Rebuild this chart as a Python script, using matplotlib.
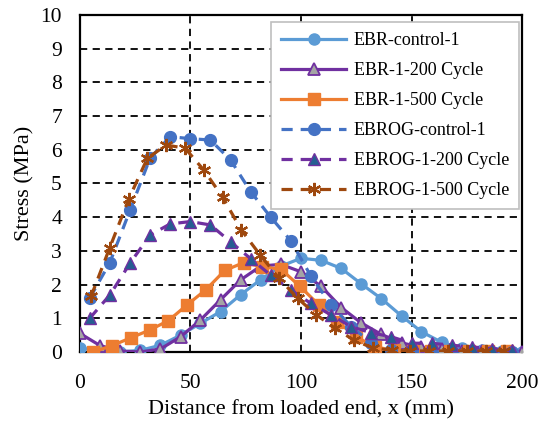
import numpy as np
import matplotlib
matplotlib.use("Agg")
import matplotlib.pyplot as plt

plt.rcParams['font.family'] = ['Liberation Serif', 'DejaVu Serif']

# distances (mm) and stresses (MPa)
x_ebr = [0, 9.1, 18.2, 27.3, 36.4, 45.5, 54.5, 63.6, 72.7, 81.8, 90.9, 100,
         109.1, 118.2, 127.3, 136.4, 145.5, 154.5, 163.6, 172.7, 181.8, 190.9, 200]
ebr_control = [0.12, 0.03, 0.0, 0.05, 0.2, 0.5, 0.85, 1.2, 1.7, 2.15, 2.55, 2.78,
               2.72, 2.48, 2.02, 1.58, 1.07, 0.6, 0.29, 0.11, 0.05, 0.02, 0.0]
ebr_200 = [0.55, 0.19, 0.03, 0.0, 0.09, 0.45, 0.95, 1.55, 2.14, 2.55, 2.6, 2.38,
           1.95, 1.32, 0.86, 0.52, 0.27, 0.14, 0.08, 0.04, 0.02, 0.01, 0.0]

x_ebr500 = [6, 14.5, 23, 31.5, 40, 48.5, 57, 65.5, 74, 82.5, 91, 99.5,
            108, 116.5, 125, 133.5, 142, 150.5, 159, 167.5, 176, 184.5, 193]
ebr_500 = [0.0, 0.19, 0.42, 0.65, 0.93, 1.4, 1.85, 2.42, 2.65, 2.53, 2.45, 1.95,
           1.4, 0.9, 0.45, 0.15, 0.05, 0.02, 0.02, 0.02, 0.02, 0.02, 0.02]

x_ebrog = [4.4, 13.5, 22.6, 31.7, 40.8, 49.9, 59, 68.1, 77.2, 86.3, 95.4, 104.5,
           113.6, 122.7, 131.8, 140.9, 150, 159.1, 168.2, 177.3, 186.4, 195.5]
ebrog_control = [1.6, 2.65, 4.2, 5.75, 6.39, 6.33, 6.29, 5.7, 4.76, 4.0, 3.3, 2.25,
                 1.4, 0.75, 0.28, 0.05, 0.02, 0.0, 0.0, 0.0, 0.0, 0.0]
ebrog_200 = [1.0, 1.69, 2.63, 3.47, 3.8, 3.87, 3.77, 3.27, 2.77, 2.28, 1.84, 1.44,
             1.1, 0.75, 0.57, 0.45, 0.26, 0.26, 0.2, 0.15, 0.1, 0.05]

x_ebrog500 = [5, 13.5, 22, 30.5, 39, 47.5, 56, 64.5, 73, 81.5, 90, 98.5,
              107, 115.5, 124, 132.5, 141, 149.5, 158, 166.5, 175, 183.5, 192]
ebrog_500 = [1.65, 3.1, 4.53, 5.75, 6.14, 6.05, 5.4, 4.6, 3.62, 2.88, 2.19, 1.59,
             1.1, 0.7, 0.35, 0.12, 0.05, 0.03, 0.03, 0.03, 0.03, 0.03, 0.03]

fig, ax = plt.subplots(figsize=(5.39, 4.21), dpi=100)
fig.subplots_adjust(left=0.1484, right=0.9685, top=0.9644, bottom=0.1639)

dash = (3.5, 2.5)
ax.plot(x_ebr, ebr_control, '-', color='#5B9BD5', lw=2.3, marker='o', ms=8,
        mfc='#5B9BD5', mec='#5B9BD5', label='EBR-control-1', zorder=3)
ax.plot(x_ebr, ebr_200, '-', color='#7030A0', lw=2.3, marker='^', ms=8.5,
        mfc='#A5A5A5', mec='#7030A0', mew=1.3, label='EBR-1-200 Cycle', zorder=3)
ax.plot(x_ebr500, ebr_500, '-', color='#ED7D31', lw=2.3, marker='s', ms=8,
        mfc='#ED7D31', mec='#ED7D31', label='EBR-1-500 Cycle', zorder=3)
ax.plot(x_ebrog, ebrog_control, '--', dashes=dash, color='#4472C4', lw=2.3, marker='o',
        ms=8.5, mfc='#4472C4', mec='#4472C4', label='EBROG-control-1', zorder=3)
ax.plot(x_ebrog, ebrog_200, '--', dashes=dash, color='#7030A0', lw=2.3, marker='^',
        ms=8.5, mfc='#255E91', mec='#7030A0', mew=1.0, label='EBROG-1-200 Cycle', zorder=3)
ax.plot(x_ebrog500, ebrog_500, '--', dashes=dash, color='#9E480E', lw=2.3, marker=(6, 2, 0),
        ms=9.5, mfc='#9E480E', mec='#9E480E', mew=1.6, label='EBROG-1-500 Cycle', zorder=3)

ax.set_xlim(0, 200)
ax.set_ylim(0, 10)
ax.set_xticks([0, 50, 100, 150, 200])
ax.set_yticks(range(0, 11))
ax.grid(True, color='black', ls=(0, (4, 3)), lw=1.3)
ax.set_axisbelow(True)
for s in ax.spines.values():
    s.set_linewidth(1.6)
    s.set_color('black')
ax.tick_params(labelsize=15.5, direction='out', length=0, colors='black')
ax.tick_params(axis='y', pad=13)
ax.tick_params(axis='x', pad=16)
ax.set_xlabel('Distance from loaded end, x (mm)', fontsize=16, labelpad=5)
ax.set_ylabel('Stress (MPa)', fontsize=16, labelpad=4)

leg = ax.legend(loc='upper right', bbox_to_anchor=(0.993, 0.979), borderaxespad=0,
                fontsize=13, handlelength=3.6, fancybox=False, framealpha=1,
                edgecolor='#BFBFBF', borderpad=0.55, labelspacing=0.72, handletextpad=0.4)
leg.get_frame().set_linewidth(1.2)

fig.savefig('out.png', dpi=100)
